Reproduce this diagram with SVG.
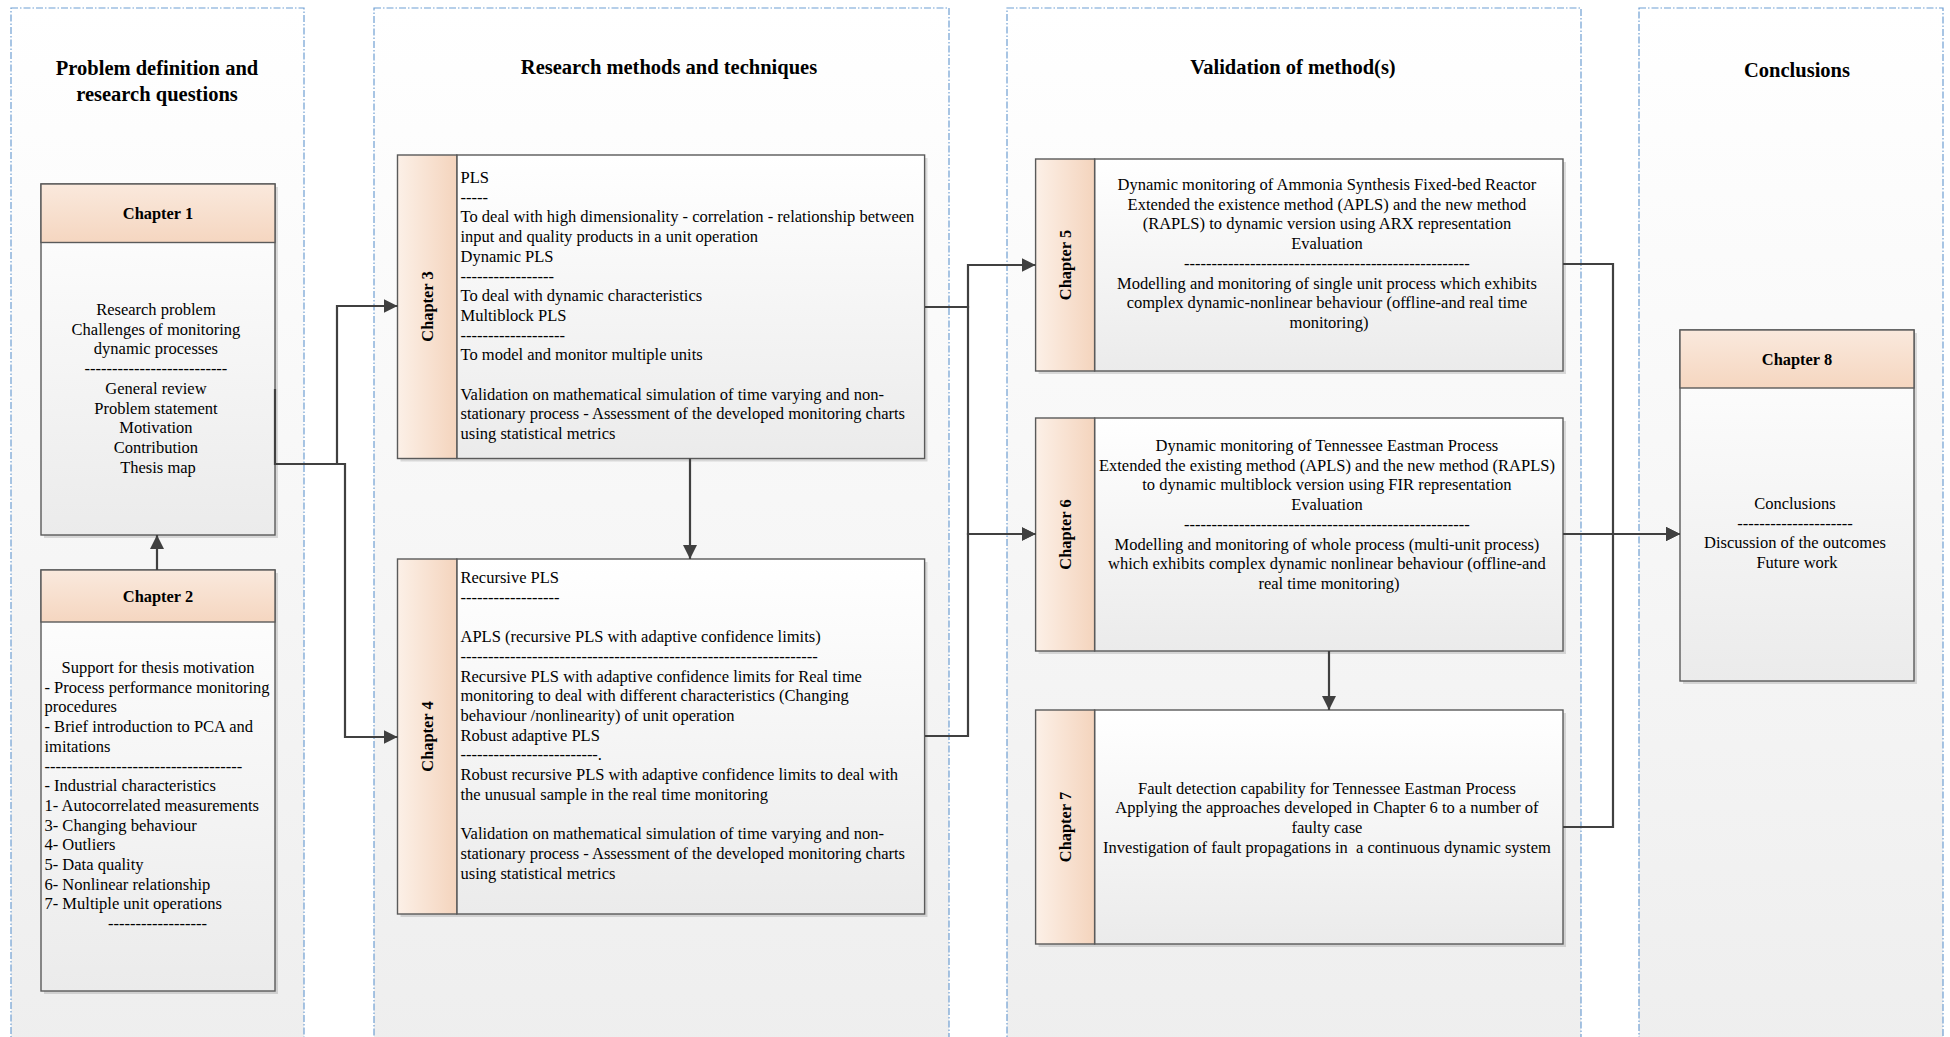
<svg xmlns="http://www.w3.org/2000/svg" width="1950" height="1037" viewBox="0 0 1950 1037">
<defs>
<linearGradient id="laneG" x1="0" y1="0" x2="0" y2="1"><stop offset="0" stop-color="#ffffff"/><stop offset="1" stop-color="#eeeeee"/></linearGradient>
<linearGradient id="bodyG" x1="0" y1="0" x2="0" y2="1"><stop offset="0" stop-color="#ffffff"/><stop offset="1" stop-color="#ebebeb"/></linearGradient>
<linearGradient id="headG" x1="0" y1="0" x2="0" y2="1"><stop offset="0" stop-color="#fae9dd"/><stop offset="1" stop-color="#f5d6c0"/></linearGradient>
<linearGradient id="bandG" x1="0" y1="0" x2="1" y2="0"><stop offset="0" stop-color="#fcf0e7"/><stop offset="1" stop-color="#f4d4bd"/></linearGradient>
<marker id="arr" markerUnits="userSpaceOnUse" markerWidth="14" markerHeight="14" viewBox="0 0 10 10" refX="10" refY="5" orient="auto"><path d="M0,0 L10,5 L0,10 z" fill="#404040"/></marker>
</defs>
<style>
.lane{fill:url(#laneG);stroke:#6f9fd3;stroke-width:1.2;stroke-dasharray:7,2,1.5,2}
.body{fill:url(#bodyG);stroke:#5a5a5a;stroke-width:1.4}
.head{fill:url(#headG);stroke:#5a5a5a;stroke-width:1.4}
.band{fill:url(#bandG);stroke:#5a5a5a;stroke-width:1.4}
.sh{fill:#000;opacity:0.13}
.title{font-family:"Liberation Serif","Times New Roman",serif;font-weight:bold;font-size:20.5px;fill:#000;text-anchor:middle}
.hd{font-family:"Liberation Serif","Times New Roman",serif;font-weight:bold;font-size:16.4px;fill:#000;text-anchor:middle}
.tx{font-family:"Liberation Serif","Times New Roman",serif;font-size:16.5px;fill:#000}
.c{text-anchor:middle}
.conn path{fill:none;stroke:#404040;stroke-width:2.2}
</style>

<g id="lanes">
<rect class="lane" x="11" y="8" width="293" height="1045"/>
<rect class="lane" x="374" y="8" width="575" height="1045"/>
<rect class="lane" x="1007" y="8" width="574" height="1045"/>
<rect class="lane" x="1639" y="8" width="304" height="1045"/>
<text class="title" x="157" y="75">Problem definition and</text>
<text class="title" x="157" y="101">research questions</text>
<text class="title" x="669" y="73.5">Research methods and techniques</text>
<text class="title" x="1293" y="73.5">Validation of method(s)</text>
<text class="title" x="1797" y="76.5">Conclusions</text>
</g>

<g id="chapter1">
<rect class="sh" x="44" y="187" width="234" height="351"/>
<rect class="body" x="41" y="184" width="234" height="351"/>
<rect class="head" x="41" y="184" width="234" height="58.5"/>
<text class="hd" x="158" y="218.5">Chapter 1</text>
<text class="tx c" y="315">
<tspan x="158">Research problem</tspan>
<tspan x="158" dy="19.7">Challenges of monitoring</tspan>
<tspan x="158" dy="19.7">dynamic processes</tspan>
<tspan x="158" dy="19.7">--------------------------</tspan>
<tspan x="158" dy="19.7">General review</tspan>
<tspan x="158" dy="19.7">Problem statement</tspan>
<tspan x="158" dy="19.7">Motivation</tspan>
<tspan x="158" dy="19.7">Contribution</tspan>
<tspan x="158" dy="19.7">Thesis map</tspan>
</text>
</g>

<g id="chapter2">
<rect class="sh" x="44" y="573" width="234" height="421"/>
<rect class="body" x="41" y="570" width="234" height="421"/>
<rect class="head" x="41" y="570" width="234" height="52"/>
<text class="hd" x="158" y="601.5">Chapter 2</text>
<text class="tx c" x="158" y="673">Support for thesis motivation</text>
<text class="tx" y="673">
<tspan x="44.5" dy="19.7">- Process performance monitoring</tspan>
<tspan x="44.5" dy="19.7">procedures</tspan>
<tspan x="44.5" dy="19.7">- Brief introduction to PCA and</tspan>
<tspan x="44.5" dy="19.7">imitations</tspan>
<tspan x="44.5" dy="19.7">------------------------------------</tspan>
<tspan x="44.5" dy="19.7">- Industrial characteristics</tspan>
<tspan x="44.5" dy="19.7">1- Autocorrelated measurements</tspan>
<tspan x="44.5" dy="19.7">3- Changing behaviour</tspan>
<tspan x="44.5" dy="19.7">4- Outliers</tspan>
<tspan x="44.5" dy="19.7">5- Data quality</tspan>
<tspan x="44.5" dy="19.7">6- Nonlinear relationship</tspan>
<tspan x="44.5" dy="19.7">7- Multiple unit operations</tspan>
<tspan x="108" dy="19.7">------------------</tspan>
</text>
</g>

<g id="chapter3">
<rect class="sh" x="400.5" y="158" width="527" height="303.5"/>
<rect class="body" x="456.8" y="155" width="467.8" height="303.5"/>
<rect class="band" x="397.5" y="155" width="59.3" height="303.5"/>
<text class="hd" transform="translate(427,306.5) rotate(-90)" x="0" y="5.5">Chapter 3</text>
<text class="tx" y="183">
<tspan x="460.5">PLS</tspan>
<tspan x="460.5" dy="19.7">-----</tspan>
<tspan x="460.5" dy="19.7">To deal with high dimensionality - correlation - relationship between</tspan>
<tspan x="460.5" dy="19.7">input and quality products in a unit operation</tspan>
<tspan x="460.5" dy="19.7">Dynamic PLS</tspan>
<tspan x="460.5" dy="19.7">-----------------</tspan>
<tspan x="460.5" dy="19.7">To deal with dynamic characteristics</tspan>
<tspan x="460.5" dy="19.7">Multiblock PLS</tspan>
<tspan x="460.5" dy="19.7">-------------------</tspan>
<tspan x="460.5" dy="19.7">To model and monitor multiple units</tspan>
<tspan x="460.5" dy="39.4">Validation on mathematical simulation of time varying and non-</tspan>
<tspan x="460.5" dy="19.7">stationary process - Assessment of the developed monitoring charts</tspan>
<tspan x="460.5" dy="19.7">using statistical metrics</tspan>
</text>
</g>

<g id="chapter4">
<rect class="sh" x="400.5" y="562" width="527" height="355"/>
<rect class="body" x="456.8" y="559" width="467.8" height="355"/>
<rect class="band" x="397.5" y="559" width="59.3" height="355"/>
<text class="hd" transform="translate(427,736.5) rotate(-90)" x="0" y="5.5">Chapter 4</text>
<text class="tx" y="583">
<tspan x="460.5">Recursive PLS</tspan>
<tspan x="460.5" dy="19.7">------------------</tspan>
<tspan x="460.5" dy="39.4">APLS (recursive PLS with adaptive confidence limits)</tspan>
<tspan x="460.5" dy="19.7">-----------------------------------------------------------------</tspan>
<tspan x="460.5" dy="19.7">Recursive PLS with adaptive confidence limits for Real time</tspan>
<tspan x="460.5" dy="19.7">monitoring to deal with different characteristics (Changing</tspan>
<tspan x="460.5" dy="19.7">behaviour /nonlinearity) of unit operation</tspan>
<tspan x="460.5" dy="19.7">Robust adaptive PLS</tspan>
<tspan x="460.5" dy="19.7">-------------------------.</tspan>
<tspan x="460.5" dy="19.7">Robust recursive PLS with adaptive confidence limits to deal with</tspan>
<tspan x="460.5" dy="19.7">the unusual sample in the real time monitoring</tspan>
<tspan x="460.5" dy="39.4">Validation on mathematical simulation of time varying and non-</tspan>
<tspan x="460.5" dy="19.7">stationary process - Assessment of the developed monitoring charts</tspan>
<tspan x="460.5" dy="19.7">using statistical metrics</tspan>
</text>
</g>

<g id="chapter5">
<rect class="sh" x="1038.6" y="162" width="527.4" height="212"/>
<rect class="body" x="1094.6" y="159" width="468.4" height="212"/>
<rect class="band" x="1035.6" y="159" width="59" height="212"/>
<text class="hd" transform="translate(1065,265) rotate(-90)" x="0" y="5.5">Chapter 5</text>
<text class="tx c" y="190">
<tspan x="1329">Dynamic monitoring of Ammonia Synthesis Fixed-bed Reactor</tspan>
<tspan x="1329" dy="19.7">Extended the existence method (APLS) and the new method</tspan>
<tspan x="1329" dy="19.7">(RAPLS) to dynamic version using ARX representation</tspan>
<tspan x="1329" dy="19.7">Evaluation</tspan>
<tspan x="1329" dy="19.7">----------------------------------------------------</tspan>
<tspan x="1329" dy="19.7">Modelling and monitoring of single unit process which exhibits</tspan>
<tspan x="1329" dy="19.7">complex dynamic-nonlinear behaviour (offline-and real time</tspan>
<tspan x="1329" dy="19.7">monitoring)</tspan>
</text>
</g>

<g id="chapter6">
<rect class="sh" x="1038.6" y="421" width="527.4" height="233"/>
<rect class="body" x="1094.6" y="418" width="468.4" height="233"/>
<rect class="band" x="1035.6" y="418" width="59" height="233"/>
<text class="hd" transform="translate(1065,534.5) rotate(-90)" x="0" y="5.5">Chapter 6</text>
<text class="tx c" y="451">
<tspan x="1329">Dynamic monitoring of Tennessee Eastman Process</tspan>
<tspan x="1329" dy="19.7">Extended the existing method (APLS) and the new method (RAPLS)</tspan>
<tspan x="1329" dy="19.7">to dynamic multiblock version using FIR representation</tspan>
<tspan x="1329" dy="19.7">Evaluation</tspan>
<tspan x="1329" dy="19.7">----------------------------------------------------</tspan>
<tspan x="1329" dy="19.7">Modelling and monitoring of whole process (multi-unit process)</tspan>
<tspan x="1329" dy="19.7">which exhibits complex dynamic nonlinear behaviour (offline-and</tspan>
<tspan x="1329" dy="19.7">real time monitoring)</tspan>
</text>
</g>

<g id="chapter7">
<rect class="sh" x="1038.6" y="713" width="527.4" height="234"/>
<rect class="body" x="1094.6" y="710" width="468.4" height="234"/>
<rect class="band" x="1035.6" y="710" width="59" height="234"/>
<text class="hd" transform="translate(1065,827) rotate(-90)" x="0" y="5.5">Chapter 7</text>
<text class="tx c" y="793.5" style="white-space:pre">
<tspan x="1329">Fault detection capability for Tennessee Eastman Process</tspan>
<tspan x="1329" dy="19.7">Applying the approaches developed in Chapter 6 to a number of</tspan>
<tspan x="1329" dy="19.7">faulty case</tspan>
<tspan x="1329" dy="19.7">Investigation of fault propagations in  a continuous dynamic system</tspan>
</text>
</g>

<g id="chapter8">
<rect class="sh" x="1683" y="333" width="234" height="351"/>
<rect class="body" x="1680" y="330" width="234" height="351"/>
<rect class="head" x="1680" y="330" width="234" height="58"/>
<text class="hd" x="1797" y="364.5">Chapter 8</text>
<text class="tx c" y="509">
<tspan x="1797">Conclusions</tspan>
<tspan x="1797" dy="19.7">---------------------</tspan>
<tspan x="1797" dy="19.7">Discussion of the outcomes</tspan>
<tspan x="1797" dy="19.7">Future work</tspan>
</text>
</g>

<g id="connectors" class="conn">
<path d="M157,570 V535" marker-end="url(#arr)"/>
<path d="M275,389 V464 H337 V306 H397.5" marker-end="url(#arr)"/>
<path d="M275,464 H345 V737 H397.5" marker-end="url(#arr)"/>
<path d="M690,458.5 V559" marker-end="url(#arr)"/>
<path d="M925,307 H968 V265 H1035.6" marker-end="url(#arr)"/>
<path d="M925,307 H968 V534 H1035.6" marker-end="url(#arr)"/>
<path d="M925,736 H968 V534 H1035.6" marker-end="url(#arr)"/>
<path d="M1329,651 V710" marker-end="url(#arr)"/>
<path d="M1563,264 H1613 V534 H1680" marker-end="url(#arr)"/>
<path d="M1563,534 H1680" marker-end="url(#arr)"/>
<path d="M1563,827 H1613 V534 H1680" marker-end="url(#arr)"/>
</g>
</svg>
